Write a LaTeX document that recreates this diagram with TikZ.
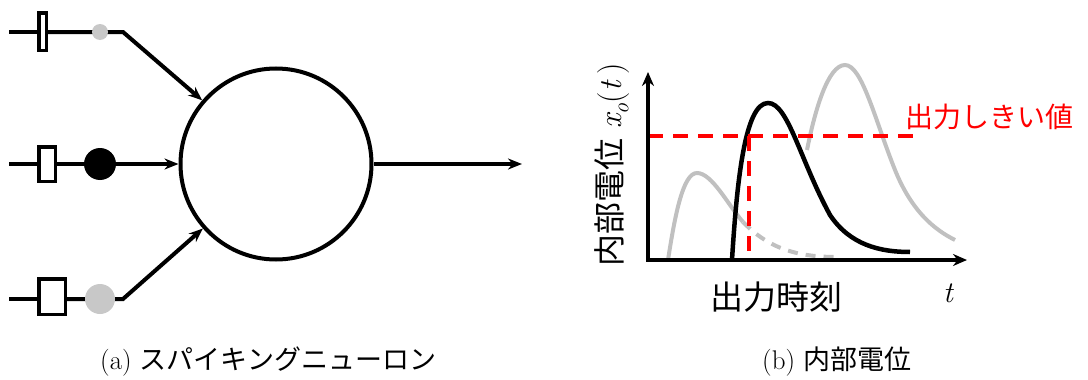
\documentclass[tikz,border=0pt]{standalone}
\usepackage{fontspec}
\newfontfamily\jp{Noto Sans CJK JP}
\usetikzlibrary{arrows.meta}
\definecolor{lgray}{RGB}{192,192,192}
\definecolor{dotgray}{RGB}{200,200,200}
\definecolor{thred}{RGB}{255,0,0}
\begin{document}
\begin{tikzpicture}[x=1pt,y=-1pt,
  wire/.style={line width=4pt},
  arr/.style={wire,-{Stealth[length=14pt,width=11pt]}},
  box/.style={draw,line width=3.5pt,fill=white,inner sep=0pt},
  dot/.style={circle,inner sep=0pt,draw=none},
  neuron/.style={circle,draw,line width=4pt,minimum size=191pt,inner sep=0pt},
  curveb/.style={line width=4.5pt,black},
  curveg/.style={line width=4pt,lgray},
  thr/.style={line width=4pt,thred,dash pattern=on 15pt off 10pt},
  jplab/.style={font=\jp\fontsize{27}{30}\selectfont,inner sep=0pt},
]
\useasboundingbox (0,0) rectangle (1088,380);

% ---- (a) spiking neuron ----
\node[neuron] (n) at (276,164) {};
\coordinate (s1) at (9,32);
\coordinate (s2) at (9,164);
\coordinate (s3) at (9,299);
\coordinate (c1) at (123,32);
\coordinate (c3) at (123,299);
\coordinate (out) at (522,164);
\node[box,minimum width=7.5pt,minimum height=37.5pt] (r1) at (42.5,31.5) {};
\node[box,minimum width=16.5pt,minimum height=34.5pt] (r2) at (47,164) {};
\node[box,minimum width=26.5pt,minimum height=35.5pt] (r3) at (52,296.5) {};

\draw[wire] (s1) -- (s1 -| r1.west);
\draw[wire] (s2) -- (s2 -| r2.west);
\draw[wire] (s3) -- (s3 -| r3.west);
\draw[arr] (r1.east |- c1) -- (c1) -- (n);
\draw[arr] (r2.east) -- (n.west);
\draw[arr] (r3.east |- c3) -- (c3) -- (n);
\draw[arr] (n.east) -- (out);

\node[dot,fill=dotgray,minimum size=16pt] (d1) at (100,32) {};
\node[dot,fill=black,minimum size=32pt] (d2) at (100,164) {};
\node[dot,fill=dotgray,minimum size=30pt] (d3) at (100,299) {};

% ---- (b) internal potential ----
\coordinate (o) at (648,260);
\coordinate (ytip) at (648,72);
\coordinate (xtip) at (967,260);

% gray curves
\draw[curveg] (668,260) .. controls (675,215) and (683,173) .. (697,173)
  .. controls (712,173) and (728,205) .. (743,222);
\draw[curveg,dash pattern=on 10pt off 8pt] (743,222) .. controls (770,250) and (800,257) .. (837,257);
\draw[curveg] (807,150) .. controls (815,110) and (828,65) .. (845,65)
  .. controls (862,65) and (875,120) .. (895,170)
  .. controls (912,212) and (935,230) .. (955,240);
% black curve
\draw[curveb] (732,260) .. controls (737,180) and (745,103) .. (768,103)
  .. controls (788,103) and (800,160) .. (830,215)
  .. controls (850,245) and (880,252) .. (910,252);

% threshold
\draw[thr] (648,136) -- (920,136);
\draw[thr] (749,136) -- (749,260);

% axes
\draw[line width=4pt,{Stealth[length=14pt,width=12pt]}-{Stealth[length=14pt,width=12pt]}] (ytip) -- (o) -- (xtip);

\node[jplab,text=thred,font=\jp\fontsize{28}{30}\selectfont,anchor=west] (thl) at (905,117) {出力しきい値};
\node[jplab,font=\jp\fontsize{33}{36}\selectfont] (otl) at (776,297) {出力時刻};
\node[inner sep=0pt,font=\fontsize{30}{32}\selectfont\itshape] (tl) at (948,293) {t};
\node[inner sep=0pt,rotate=90,font=\fontsize{32}{36}\selectfont] (yl) at (612,165) {{\jp 内部電位} {\itshape x}\raisebox{-0.22em}{\fontsize{22}{24}\selectfont\itshape o}(\textit{t}\,)};

% captions
\node[inner sep=0pt,anchor=base west,font=\fontsize{27}{30}\selectfont] (capa) at (100,369) {(a) {\jp スパイキングニューロン}};
\node[inner sep=0pt,anchor=base west,font=\fontsize{27}{30}\selectfont] (capb) at (762,369) {(b) {\jp 内部電位}};
\end{tikzpicture}
\end{document}
